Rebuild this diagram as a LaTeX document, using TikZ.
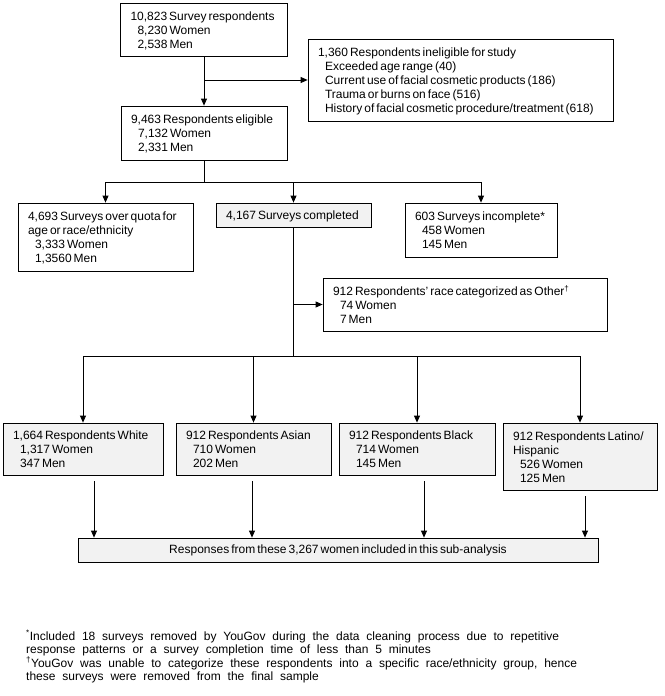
\documentclass[tikz,border=0pt]{standalone}
\usepackage{fontspec}
\setmainfont[WordSpace=0.6]{Liberation Sans}
\newfontfamily\fnfont[WordSpace=2.05]{Liberation Sans}
\usetikzlibrary{arrows.meta}
\definecolor{boxgray}{HTML}{F2F2F2}
\newcommand\blines[2]{\makebox[#1][l]{\raisebox{-2pt}[\height][\depth]{\begin{tabular}{@{}l@{}}#2\end{tabular}}}}
\newcommand\ind{\hspace*{7pt}}
\begin{document}
\begin{tikzpicture}[x=1pt,y=-1pt,
  box/.style={draw, line width=0.8pt, inner xsep=10pt, inner ysep=0pt,
    font=\fontsize{12}{14}\selectfont, anchor=center},
  gbox/.style={box, fill=boxgray},
  arr/.style={line width=0.8pt, -{Triangle[length=7pt,width=6pt]}},
  ln/.style={line width=0.8pt}]
\useasboundingbox (0,0) rectangle (664,696);

\node[box, minimum width=167pt, minimum height=53pt] (top) at (204,29.5)
  {\blines{147pt}{10,823 Survey respondents\\\ind 8,230 Women\\\ind 2,538 Men}};
\node[box, minimum width=305pt, minimum height=82pt] (inel) at (460.5,80)
  {\blines{285pt}{1,360 Respondents ineligible for study\\\ind Exceeded age range (40)\\\ind Current use of facial cosmetic products (186)\\\ind Trauma or burns on face (516)\\\ind History of facial cosmetic procedure/treatment (618)}};
\node[box, minimum width=166pt, minimum height=54pt] (elig) at (204,133)
  {\blines{146pt}{9,463 Respondents eligible\\\ind 7,132 Women\\\ind 2,331 Men}};
\node[box, minimum width=175pt, minimum height=68pt] (quota) at (105.5,237)
  {\blines{155pt}{4,693 Surveys over quota for\\age or race/ethnicity\\\ind 3,333 Women\\\ind 1,3560 Men}};
\node[gbox, minimum width=155pt, minimum height=24pt] (compl) at (293.5,215)
  {\blines{135pt}{4,167 Surveys completed}};
\node[box, minimum width=152pt, minimum height=54pt] (incompl) at (481,230)
  {\blines{132pt}{603 Surveys incomplete*\\\ind 458 Women\\\ind 145 Men}};
\node[box, minimum width=284pt, minimum height=53pt] (other) at (465,304.5)
  {\blines{264pt}{912 Respondents' race categorized as Other\textsuperscript{†}\\\ind 74 Women\\\ind 7 Men}};
\node[gbox, minimum width=160pt, minimum height=52pt] (white) at (83,449)
  {\blines{140pt}{1,664 Respondents White\\\ind 1,317 Women\\\ind 347 Men}};
\node[gbox, minimum width=155pt, minimum height=52pt] (asian) at (253.5,449)
  {\blines{135pt}{912 Respondents Asian\\\ind 710 Women\\\ind 202 Men}};
\node[gbox, minimum width=156pt, minimum height=52pt] (black) at (417,449)
  {\blines{136pt}{912 Respondents Black\\\ind 714 Women\\\ind 145 Men}};
\node[gbox, minimum width=154pt, minimum height=67pt] (latino) at (580,456.5)
  {\blines{134pt}{912 Respondents Latino/\\Hispanic\\\ind 526 Women\\\ind 125 Men}};
\node[gbox, minimum width=520pt, minimum height=24pt] (final) at (338,550)
  {Responses from these 3,267 women included in this sub-analysis};

\node[anchor=north west, align=left, inner sep=0pt, font=\fnfont\fontsize{12}{13.6}\selectfont] (fn) at (26,630)
  {\textsuperscript{*}Included 18 surveys removed by YouGov during the data cleaning process due to repetitive\\
   response patterns or a survey completion time of less than 5 minutes\\
   \textsuperscript{†}YouGov was unable to categorize these respondents into a specific race/ethnicity group, hence\\
   these surveys were removed from the final sample};

% connectors
\draw[arr] (top.south) -- (elig.north);
\coordinate (j1) at (top.south |- inel.west);
\draw[arr] (j1) -- (inel.west);
\coordinate (j2) at (204,182);
\draw[ln] (elig.south) -- (j2);
\draw[arr] (j2) -| (quota.north);
\draw[arr] (j2) -| (compl.north);
\draw[arr] (j2) -| (incompl.north);
\coordinate (j3) at (compl.south |- 0,356);
\draw[ln] (compl.south) -- (j3);
\coordinate (j4) at (compl.south |- other.west);
\draw[arr] (j4) -- (other.west);
\draw[arr] (j3) -| (white.north);
\draw[arr] (j3) -| (asian.north);
\draw[arr] (j3) -| (black.north);
\draw[arr] (j3) -| (latino.north);
\coordinate (w1) at (94,481);
\coordinate (a1) at (252,481);
\coordinate (b1) at (424,481);
\coordinate (l1) at (585,496);
\draw[arr] (w1) -- (w1 |- final.north);
\draw[arr] (a1) -- (a1 |- final.north);
\draw[arr] (b1) -- (b1 |- final.north);
\draw[arr] (l1) -- (l1 |- final.north);
\end{tikzpicture}
\end{document}
